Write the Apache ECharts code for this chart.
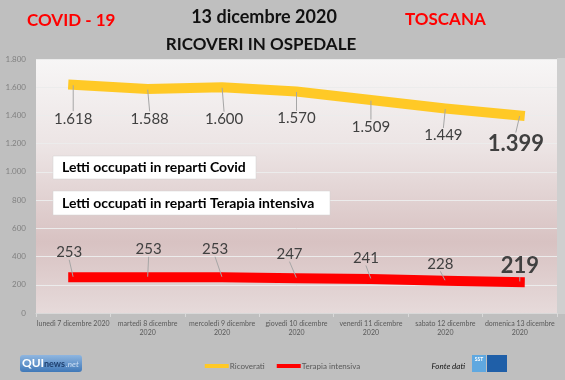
<!DOCTYPE html>
<html><head><meta charset="utf-8">
<script src="https://cdn.jsdelivr.net/npm/echarts@6/dist/echarts.min.js"></script>
<style>html,body{margin:0;padding:0;background:#bfbfbf}#c{width:565px;height:380px}</style>
</head><body><div id="c"></div>
<script>
// ---- data ----
const categories = ["lunedì 7 dicembre 2020","martedì 8 dicembre 2020","mercoledì 9 dicembre 2020","giovedì 10 dicembre 2020","venerdì 11 dicembre 2020","sabato 12 dicembre 2020","domenica 13 dicembre 2020"];
const ricoverati = [1618,1588,1600,1570,1509,1449,1399];
const terapiaIntensiva = [253,253,253,247,241,228,219];
const yTicks = [0,200,400,600,800,1000,1200,1400,1600,1800];

// ---- layout (label offsets in px, not data) ----
const yellowLabelDy = [34,30,32,27,27,27,28];
const yellowLabelDx = [0,2,2,0,0,-2,-4];
const redLabelDy = [-25,-28,-28,-24,-21,-17,-16];
const redLabelDx = [-4,1,-7,-7,-5,-5,0];

const FONT = 'Lato, "Open Sans", sans-serif';
const fmt = v => String(v).replace(/\B(?=(\d{3})+(?!\d))/g, '.');

function mkData(arr, big){
  return arr.map((v,i)=> i===arr.length-1 ? {value:v, label:{fontSize:big, fontWeight:'bold', color:'#404040'}} : v);
}

const chart = echarts.init(document.getElementById('c'), null, {renderer:'canvas'});
chart.setOption({
  backgroundColor:'#bfbfbf',
  animation:false,
  textStyle:{fontFamily:FONT},
  grid:{left:36, right:8, top:59, bottom:67, show:true, borderWidth:0,
    backgroundColor:{type:'linear',x:0,y:0,x2:0,y2:1,colorStops:[
      {offset:0,color:'#f7f6f6'},{offset:0.35,color:'#ece4e4'},{offset:0.72,color:'#d8c2c2'},{offset:1,color:'#e6dada'}]}},
  xAxis:{type:'category', data:categories, boundaryGap:true,
    axisLine:{show:true, lineStyle:{color:'#d9d9d9'}},
    axisTick:{show:true, length:4, lineStyle:{color:'#d9d9d9'}},
    axisLabel:{fontSize:7, color:'#595959', lineHeight:9, margin:6, interval:0,
      formatter: v => { const p=v.split(' '); return v.length>22 ? p.slice(0,3).join(' ')+'\n'+p[3] : v; }}},
  yAxis:{type:'value', min:yTicks[0], max:yTicks[yTicks.length-1], interval:200,
    axisLine:{show:false}, axisTick:{show:false},
    splitLine:{lineStyle:{color:'#ececec', width:1}},
    axisLabel:{fontSize:8, color:'#808080', margin:10, formatter: v=>fmt(v)}},
  legend:{bottom:5, left:'center', itemGap:12, itemWidth:24, itemHeight:4, icon:'rect',
    textStyle:{fontSize:8, color:'#595959', padding:[0,0,0,-4]},
    data:['Ricoverati','Terapia intensiva']},
  series:[
    {name:'Ricoverati', type:'line', data:mkData(ricoverati,22),
      symbol:'circle', symbolSize:1, showSymbol:true,
      lineStyle:{color:'#ffc926', width:10, cap:'square', join:'miter'},
      itemStyle:{color:'#ffc926'},
      label:{show:true, position:'inside', fontSize:15, color:'#404040', formatter:p=>fmt(p.value)},
      labelLine:{show:true, lineStyle:{color:'#a6a6a6', width:1}},
      labelLayout: p => ({dx:yellowLabelDx[p.dataIndex], dy:yellowLabelDy[p.dataIndex]})},
    {name:'Terapia intensiva', type:'line', data:mkData(terapiaIntensiva,22),
      symbol:'circle', symbolSize:1, showSymbol:true,
      lineStyle:{color:'#ff0000', width:10, cap:'square', join:'miter'},
      itemStyle:{color:'#ff0000'},
      label:{show:true, position:'inside', fontSize:15, color:'#404040', formatter:p=>fmt(p.value)},
      labelLine:{show:true, lineStyle:{color:'#a6a6a6', width:1}},
      labelLayout: p => ({dx:redLabelDx[p.dataIndex], dy:redLabelDy[p.dataIndex]})}
  ],
  graphic:[
    {type:'text', left:27, top:12, style:{text:'COVID - 19', fill:'#ff0000', font:'bold 17px '+FONT}},
    {type:'text', left:405, top:11, style:{text:'TOSCANA', fill:'#ff0000', font:'bold 17px '+FONT}},
    {type:'text', x:264, y:17, style:{text:'13 dicembre 2020', fill:'#111', font:'bold 18px '+FONT, align:'center', verticalAlign:'middle'}},
    {type:'text', x:261, y:45, style:{text:'RICOVERI IN OSPEDALE', fill:'#111', font:'bold 17px '+FONT, align:'center', verticalAlign:'middle'}},
    {type:'rect', shape:{x:557, y:58, width:8, height:256}, style:{fill:'#cfcfcf'}, z:-1},
    {type:'rect', shape:{x:53, y:156, width:203, height:23}, style:{fill:'#ffffff', stroke:'#d0d0d0', lineWidth:0.5}, z:10},
    {type:'text', x:62, y:167.5, style:{text:'Letti occupati in reparti Covid', fill:'#000', font:'bold 14px '+FONT, verticalAlign:'middle'}, z:11},
    {type:'rect', shape:{x:53, y:191, width:277, height:24}, style:{fill:'#ffffff', stroke:'#d0d0d0', lineWidth:0.5}, z:10},
    {type:'text', x:62, y:203, style:{text:'Letti occupati in reparti Terapia intensiva', fill:'#000', font:'bold 14px '+FONT, verticalAlign:'middle'}, z:11},
    {type:'rect', shape:{x:20, y:355, width:62, height:17, r:3}, style:{fill:{type:'linear',x:0,y:0,x2:0,y2:1,colorStops:[{offset:0,color:'#8fb6e0'},{offset:1,color:'#3f78b8'}]}}},
    {type:'text', x:22, y:363.5, style:{text:'QUI', fill:'#ffffff', font:'bold 12px '+FONT, verticalAlign:'middle'}},
    {type:'text', x:44, y:364, style:{text:'news', fill:'#1e3f6e', font:'bold 9px '+FONT, verticalAlign:'middle'}},
    {type:'text', x:66, y:364, style:{text:'.net', fill:'#cfe0f5', font:'italic 8px '+FONT, verticalAlign:'middle'}},
    {type:'text', x:465, y:366, style:{text:'Fonte dati', fill:'#111', font:'italic 8px '+FONT, align:'right', verticalAlign:'middle'}},
    {type:'rect', shape:{x:472, y:355, width:14, height:17}, style:{fill:'#5fa8e0'}},
    {type:'text', x:479, y:359, style:{text:'SST', fill:'#ffffff', font:'bold 5px '+FONT, align:'center', verticalAlign:'middle'}},
    {type:'rect', shape:{x:487, y:355, width:20, height:17}, style:{fill:'#1f5fa8'}}
  ]
});
</script></body></html>
